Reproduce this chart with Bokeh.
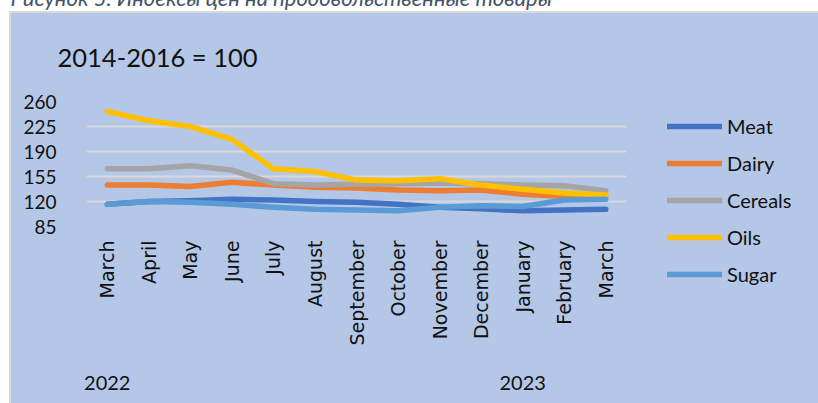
import math
from bokeh.plotting import figure
from bokeh.models import FixedTicker, LinearAxis, Legend, LegendItem, Range1d, Title
from bokeh.embed import file_html
from bokeh.resources import INLINE

# ---- data ----
months = ["March", "April", "May", "June", "July", "August", "September",
          "October", "November", "December", "January", "February", "March"]
years = ["2022", "2023"]
year_first_month = [0, 10]
meat = [116, 120, 121, 123, 122, 120, 119, 116, 112, 110, 107, 108, 109]
dairy = [143, 143, 141, 147, 143, 140, 139, 136, 135, 136, 130, 127, 127]
cereals = [166, 166, 170, 164, 145, 143, 144, 145, 146, 145, 143, 142, 135]
oils = [246, 233, 225, 207, 166, 162, 150, 149, 152, 143, 137, 132, 129]
sugar = [116, 120, 119, 116, 112, 109, 108, 107, 112, 114, 113, 122, 123]
y_ticks = [85, 120, 155, 190, 225, 260]
series_names = ["Meat", "Dairy", "Cereals", "Oils", "Sugar"]
series_values = [meat, dairy, cereals, oils, sugar]
series_colors = ["#4472C4", "#ED7D31", "#A5A5A5", "#FFC000", "#5B9BD5"]
subtitle = "2014-2016 = 100"
caption = "Рисунок 5. Индексы цен на продовольственные товары"

x = list(range(len(months)))

# canvas starts 30px above the page top so the caption is cut off like in the reference
p = figure(frame_width=540, frame_height=125, output_backend="svg", toolbar_location=None,
           x_range=Range1d(-0.5, len(months) - 0.5),
           y_range=Range1d(y_ticks[0], y_ticks[-1]),
           min_border_left=86, min_border_right=192,
           min_border_top=131, min_border_bottom=177)

p.border_fill_color = None
p.background_fill_color = None
p.outline_line_color = None
p.styles = {
    "position": "fixed", "left": "0px", "top": "-30px",
    "background": ("linear-gradient(#D9D9D9,#D9D9D9) 9px 41px / 1400px 2px no-repeat, "
                   "linear-gradient(#D9D9D9,#D9D9D9) 9px 41px / 2px 600px no-repeat, "
                   "linear-gradient(#B4C7E7,#B4C7E7) 11px 43px / 1400px 600px no-repeat, "
                   "#FFFFFF"),
}

# caption (outermost title, partly outside the page)
p.title.text = caption
p.title.text_font = "Lato"
p.title.text_font_size = "22px"
p.title.text_font_style = "italic"
p.title.text_color = "#44546A"
p.title.align = "left"
p.title.offset = -76
p.title.standoff = 0

# subtitle (closest to plot)
p.add_layout(Title(text=subtitle, align="left", offset=-29, standoff=59,
                   text_font="Lato", text_font_style="normal", text_font_size="25.5px",
                   text_color="#111111"), "above")

# grid
p.xgrid.visible = False
p.ygrid.ticker = FixedTicker(ticks=y_ticks)
p.ygrid.grid_line_color = "#D9D9D9"
p.ygrid.grid_line_width = 2

# y axis
yax = p.yaxis[0]
yax.ticker = FixedTicker(ticks=y_ticks)
yax.axis_line_color = None
yax.major_tick_line_color = None
yax.minor_tick_line_color = None
yax.major_label_standoff = 24
yax.major_label_text_font = "Lato"
yax.major_label_text_font_size = "19px"
yax.major_label_text_color = "#111111"

# x axis (months)
xax = p.xaxis[0]
xax.ticker = FixedTicker(ticks=x)
xax.major_label_overrides = {i: m for i, m in enumerate(months)}
xax.major_label_orientation = math.pi / 2
xax.axis_line_color = None
xax.major_tick_line_color = None
xax.minor_tick_line_color = None
xax.major_label_standoff = 8
xax.major_label_text_font = "DejaVu Sans"
xax.major_label_text_font_size = "19px"
xax.major_label_text_color = "#111111"

# year axis
yr = LinearAxis(ticker=FixedTicker(ticks=year_first_month),
                major_label_overrides={i: y for i, y in zip(year_first_month, years)},
                axis_line_color=None, major_tick_line_color=None, minor_tick_line_color=None,
                major_label_standoff=21, major_label_text_font="Lato",
                major_label_text_font_size="20px", major_label_text_color="#111111")
p.add_layout(yr, "below")

# lines
items = []
for name, vals, col in zip(series_names, series_values, series_colors):
    r = p.line(x, vals, line_width=5.5, line_color=col, line_cap="round", line_join="round")
    items.append(LegendItem(label=name, renderers=[r]))

legend = Legend(items=items, location=(41, -60), orientation="vertical",
                glyph_width=55, glyph_height=24, label_height=24, label_standoff=5,
                spacing=13, padding=0, margin=0,
                background_fill_alpha=0, border_line_alpha=0,
                label_text_font="Lato", label_text_font_size="20px",
                label_text_color="#111111")
p.add_layout(legend, "right")

open("out.html", "w").write(file_html(p, INLINE))
